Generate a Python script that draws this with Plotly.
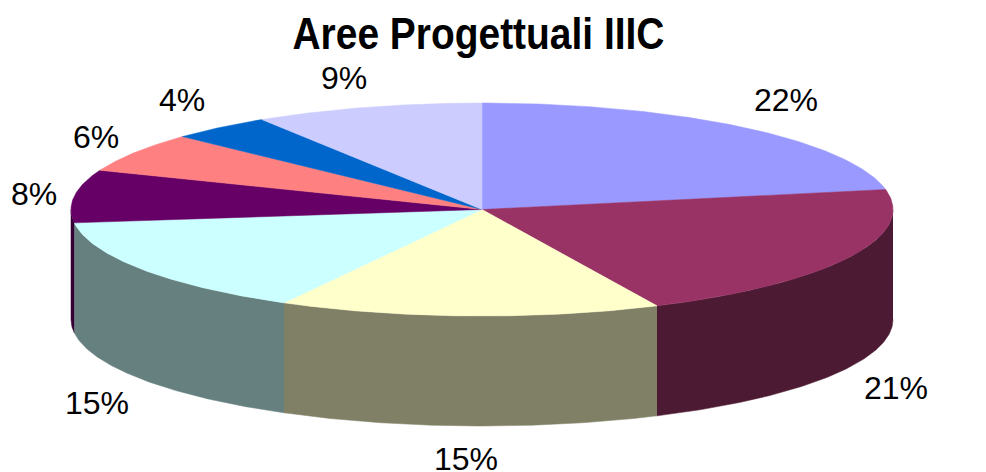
import numpy as np
import plotly.graph_objects as go

# Data
shares = [22, 21, 15, 15, 8, 6, 4, 9]
labels = ["22%", "21%", "15%", "15%", "8%", "6%", "4%", "9%"]
top_colors = ["#9999FF", "#993366", "#FFFFCC", "#CCFFFF", "#660066", "#FF8080", "#0066CC", "#CCCCFF"]
side_colors = ["#4D4D80", "#4D1A33", "#808066", "#668080", "#330033", "#804040", "#003366", "#666680"]
title_text = "Aree Progettuali IIIC"

# Projection of the disc on the page (pixels)
CX, CY, RX, RY, DEPTH = 482, 209.5, 411, 106.5, 110
label_xy = [(786, 100), (896, 388), (466, 459), (97, 403), (34, 194), (96, 137), (182, 100), (344, 78)]


def rim(a0, a1, dy=0.0):
    t = np.radians(np.linspace(a0, a1, max(2, int(abs(a1 - a0) * 2) + 1)))
    return CX + RX * np.sin(t), CY - RY * np.cos(t) + dy


fig = go.Figure()
edges = np.cumsum([0] + shares) / sum(shares) * 360

# side walls: only the front half of the disc (90..270 degrees clockwise from top)
for i in range(len(shares)):
    a0, a1 = max(edges[i], 90), min(edges[i + 1], 270)
    if a1 <= a0:
        continue
    x0, y0 = rim(a0, a1)
    x1, y1 = rim(a1, a0, DEPTH)
    fig.add_trace(go.Scatter(
        x=np.r_[x0, x1], y=np.r_[y0, y1], mode="lines", fill="toself",
        fillcolor=side_colors[i], line=dict(color=side_colors[i], width=0.5),
        hoverinfo="skip", showlegend=False))

# top face
for i in range(len(shares)):
    x0, y0 = rim(edges[i], edges[i + 1])
    fig.add_trace(go.Scatter(
        x=np.r_[CX, x0, CX], y=np.r_[CY, y0, CY], mode="lines", fill="toself",
        fillcolor=top_colors[i], line=dict(color=top_colors[i], width=0.5),
        name=labels[i], showlegend=False))

for text, (x, y) in zip(labels, label_xy):
    fig.add_annotation(x=x, y=y, text=text, showarrow=False, xref="x", yref="y",
                       font=dict(family="Liberation Sans, Arial, sans-serif", size=32, color="#000000"))

TITLE_X, TITLE_Y = 478.5, 33
fig.update_layout(
    width=986, height=472, margin=dict(l=0, r=0, t=0, b=0),
    paper_bgcolor="#FFFFFF", plot_bgcolor="#FFFFFF", showlegend=False,
    title=dict(text=title_text, x=TITLE_X / 986, xanchor="center", y=1 - TITLE_Y / 472, yanchor="middle",
               font=dict(family="Liberation Sans, Arial, sans-serif",
                         size=45, color="#000000", weight="bold")),
    xaxis=dict(range=[0, 986], visible=False, fixedrange=True),
    yaxis=dict(range=[472, 0], visible=False, fixedrange=True),
)
# Page margin off; narrow the title (no condensed bold face is installed)
post = """
document.body.style.margin = '0';
var t = document.querySelector('.gtitle');
if (t) { t.setAttribute('transform', 'translate(%f,0) scale(0.865,1) translate(%f,0)'); }
""" % (TITLE_X, -TITLE_X)
fig.write_html("out.html", config=dict(displayModeBar=False, responsive=False), post_script=post)
